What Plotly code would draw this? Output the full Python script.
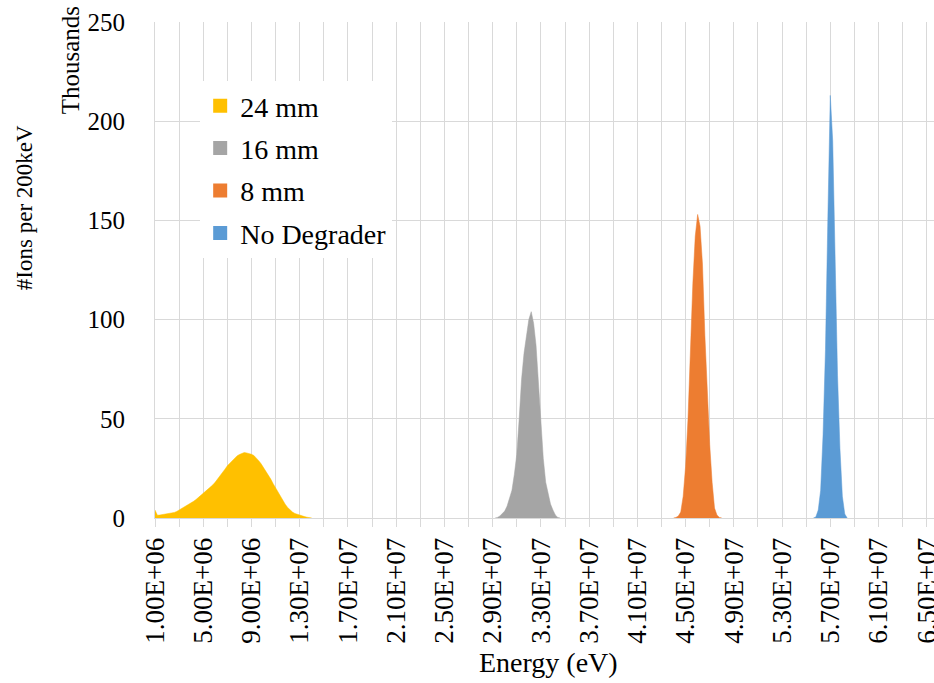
import plotly.graph_objects as go

# Energy spectra of transmitted ions, 200 keV bins (counts in thousands)
BIN_MEV = 0.2

series_names = ["24 mm", "16 mm", "8 mm", "No Degrader"]
series_colors = ["#FFC000", "#A5A5A5", "#ED7D31", "#5B9BD5"]
start_mev = [1.0, 29.2, 44.0, 55.6]

counts_24mm = [
    4.0, 1.4, 1.5, 1.7, 1.9, 2.1, 2.3, 2.5, 2.8, 3.3,
    4.0, 4.8, 5.4, 5.9, 6.6, 7.5, 8.4, 9.3, 10.3, 11.3,
    12.3, 13.3, 14.3, 15.4, 16.7, 18.1, 19.6, 21.2, 22.8, 24.6,
    26.3, 27.6, 29.0, 30.3, 31.3, 32.0, 32.6, 33.0, 32.8, 32.5,
    32.1, 31.5, 30.3, 28.9, 27.3, 25.5, 23.8, 21.7, 19.6, 17.3,
    15.2, 13.0, 10.8, 8.7, 6.9, 5.3, 4.0, 3.0, 2.3, 1.8,
    1.4, 1.0, 0.7, 0.4, 0.2, 0.0,
]
counts_16mm = [
    0.0, 0.3, 1.0, 2.0, 3.5, 6.0, 9.5, 14.0, 22.0, 32.0,
    50.0, 70.0, 83.0, 93.0, 100.0, 104.0, 98.0, 87.0, 66.0, 45.0,
    30.0, 18.0, 12.0, 7.0, 4.0, 1.5, 0.3, 0.0,
]
counts_8mm = [
    0.0, 0.3, 1.0, 3.0, 11.0, 26.0, 50.0, 88.0, 118.0, 142.0,
    153.0, 147.0, 128.0, 92.0, 63.0, 37.0, 18.0, 5.0, 1.5, 0.3,
    0.0,
]
counts_none = [
    0.0, 0.5, 4.0, 14.0, 42.0, 85.0, 152.0, 213.0, 190.0, 122.0,
    72.0, 35.0, 11.0, 2.0, 0.0,
]
series_counts = [counts_24mm, counts_16mm, counts_8mm, counts_none]

x_tick_labels = [
    "1.00E+06", "5.00E+06", "9.00E+06", "1.30E+07", "1.70E+07",
    "2.10E+07", "2.50E+07", "2.90E+07", "3.30E+07", "3.70E+07",
    "4.10E+07", "4.50E+07", "4.90E+07", "5.30E+07", "5.70E+07",
    "6.10E+07", "6.50E+07",
]

SERIF = "Liberation Serif"
GRID = "#d9d9d9"

fig = go.Figure()

# Filled area for each spectrum
for name, color, e0, counts in zip(series_names, series_colors, start_mev, series_counts):
    energies = [(e0 + i * BIN_MEV) * 1e6 for i in range(len(counts))]
    fig.add_trace(go.Scatter(
        x=energies, y=counts, mode="lines", fill="tozeroy",
        fillcolor=color, line=dict(color=color, width=0.5),
        showlegend=False, hoverinfo="skip",
    ))

# Square legend swatches
for name, color in zip(series_names, series_colors):
    fig.add_trace(go.Scatter(
        x=[None], y=[None], mode="markers", name=name, legendgroup=name,
        marker=dict(symbol="square", size=14, color=color),
    ))

# Ticks every 2 MeV, labels every 4 MeV
tick_vals = []
tick_text = []
for i, lab in enumerate(x_tick_labels):
    tick_vals.append(1e6 + 4e6 * i)
    tick_text.append(lab)
    if i < len(x_tick_labels) - 1:
        tick_vals.append(1e6 + 4e6 * i + 2e6)
        tick_text.append("")

fig.update_xaxes(
    range=[1e6, 65.6e6], automargin=False,
    tickvals=tick_vals, ticktext=tick_text, tickangle=-90,
    tickfont=dict(family=SERIF, size=27, color="#000000"),
    ticklabeloverflow="allow",
    ticks="outside", ticklen=8, tickcolor=GRID, tickwidth=1,
    showgrid=True, gridcolor=GRID, gridwidth=1,
    showline=True, linecolor=GRID, linewidth=1,
    zeroline=False,
)
fig.update_yaxes(
    range=[0, 250], dtick=50, tick0=0, automargin=False,
    tickfont=dict(family=SERIF, size=25, color="#000000"),
    ticks="", ticklabelstandoff=24,
    showgrid=True, gridcolor=GRID, gridwidth=1,
    showline=True, linecolor=GRID, linewidth=1,
    zeroline=False,
)

fig.add_annotation(
    text="#Ions per 200keV", textangle=-90, showarrow=False,
    xref="paper", yref="paper", x=-0.168, y=0.625,
    xanchor="center", yanchor="middle",
    font=dict(family=SERIF, size=23, color="#000000"),
)
fig.add_annotation(
    text="Thousands", textangle=-90, showarrow=False,
    xref="paper", yref="paper", x=-0.109, y=0.923,
    xanchor="center", yanchor="middle",
    font=dict(family=SERIF, size=25, color="#000000"),
)
fig.add_annotation(
    text="Energy (eV)", showarrow=False,
    xref="paper", yref="paper", x=0.505, y=-0.292,
    xanchor="center", yanchor="middle",
    font=dict(family=SERIF, size=28, color="#000000"),
)

fig.update_layout(
    width=934, height=683,
    margin=dict(l=155, r=0, t=22, b=165, autoexpand=False),
    paper_bgcolor="#ffffff", plot_bgcolor="#ffffff",
    showlegend=True,
    legend=dict(
        x=0.058, y=0.881, xanchor="left", yanchor="top",
        bgcolor="#ffffff", borderwidth=0,
        font=dict(family=SERIF, size=28, color="#000000"),
        itemwidth=30, tracegroupgap=3,
    ),
)

fig.write_html("out.html")
